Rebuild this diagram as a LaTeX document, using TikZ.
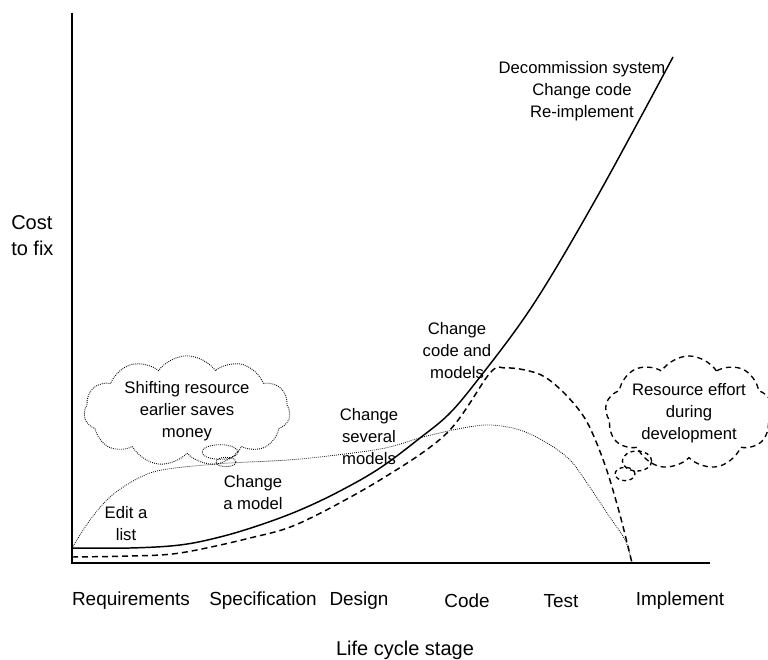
\documentclass[tikz,border=0pt]{standalone}
\usepackage{fontspec}
\setmainfont{Liberation Sans}
\usetikzlibrary{shapes.symbols,shapes.geometric}
\begin{document}
\begin{tikzpicture}[x=0.75pt,y=-0.75pt,
  font=\fontsize{12.5}{16.5}\selectfont,
  lbl/.style={align=center, inner sep=0pt},
  axislbl/.style={align=center, inner sep=0pt, font=\fontsize{14.2}{19}\selectfont},
  axisline/.style={line width=1.4pt},
  costline/.style={line width=1.1pt},
  effortline/.style={line width=1.1pt, dash pattern=on 4.5pt off 3pt},
  shiftline/.style={line width=0.6pt, dash pattern=on 0.6pt off 0.9pt},
  dotcloud/.style={cloud, cloud puffs=11, cloud puff arc=110, aspect=2.4, draw,
    line width=0.7pt, dash pattern=on 0.6pt off 0.9pt, align=center, inner sep=0pt},
  dashcloud/.style={cloud, cloud puffs=9, cloud puff arc=115, aspect=1.8, draw,
    line width=1pt, dash pattern=on 4pt off 3pt, align=center, inner sep=0pt},
  dotbubble/.style={ellipse, draw, line width=0.7pt, dash pattern=on 0.6pt off 0.9pt, inner sep=0pt},
  dashbubble/.style={ellipse, draw, line width=1pt, dash pattern=on 3pt off 2.5pt, inner sep=0pt}
]
\useasboundingbox (0,0) rectangle (768,660);

% axes
\coordinate (top) at (72,13);
\coordinate (origin) at (72,563);
\coordinate (xend) at (710,563);
\draw[axisline] (top) -- (origin) -- (xend);

% axis labels
\node[axislbl, anchor=west, align=left, font=\fontsize{15}{19.5}\selectfont] (cost) at (11,236) {Cost\\to fix};
\node[axislbl] (req) at (131,601) {Requirements};
\node[axislbl] (spec) at (263,601) {Specification};
\node[axislbl] (des) at (359,601) {Design};
\node[axislbl] (code) at (467,601) {Code};
\node[axislbl] (test) at (561,601) {Test};
\node[axislbl] (impl) at (680,601) {Implement};
\node[axislbl, font=\fontsize{15}{19}\selectfont] (lcs) at (405,650) {Life cycle stage};

% cost to fix curve (solid)
\coordinate (c0) at (72,548);
\coordinate (c1) at (673,57);
\draw[costline] plot[smooth, tension=0.6] coordinates {
  (c0) (130,548) (180,545) (220,537) (260,525) (300,510) (340,491)
  (380,468) (420,438) (450,413) (480,377) (520,324) (553,273) (597,197) (637,124) (c1)};

% resource effort curve (dashed)
\coordinate (d0) at (72,557);
\coordinate (d1) at (632,563);
\draw[effortline] plot[smooth, tension=0.55] coordinates {
  (d0) (130,556) (180,553) (250,538) (300,523) (380,480) (447,433)
  (490,373) (505,368) (525,370) (545,377) (567,396) (587,422) (605,465) (620,515) (d1)};

% shifted resource curve (dotted)
\draw[shiftline] plot[smooth, tension=0.55] coordinates {
  (c0) (90,520) (110,497) (133,481) (153,472) (175,468) (205,465) (230,463)
  (300,459) (380,449) (423,437) (463,428) (490,425) (520,430) (547,443)
  (570,460) (587,483) (607,513) (625,540) (d1)};

% curve labels
\node[lbl] (edit) at (126,524) {Edit a\\list};
\node[lbl] (amodel) at (253,493) {Change\\a model};
\node[lbl] (several) at (369,437) {Change\\several\\models};
\node[lbl] (codemod) at (457,351) {Change\\code and\\models};
\node[lbl] (decom) at (582,91) {Decommission system\\Change code\\Re-implement};

% clouds
\node[dotcloud, minimum width=145pt, minimum height=58pt] (shift) at (187,411)
  {Shifting resource\\earlier saves\\money};
\node[dotbubble, minimum width=27pt, minimum height=11pt] (sb1) at (220,452) {};
\node[dotbubble, minimum width=15pt, minimum height=7pt] (sb2) at (226,462) {};

\node[dashcloud, minimum width=120pt, minimum height=64pt] (effort) at (689,413)
  {Resource effort\\during\\development};
\node[dashbubble, minimum width=22pt, minimum height=15pt] (eb1) at (637,461) {};
\node[dashbubble, minimum width=15pt, minimum height=10pt] (eb2) at (625,474) {};
\end{tikzpicture}
\end{document}
